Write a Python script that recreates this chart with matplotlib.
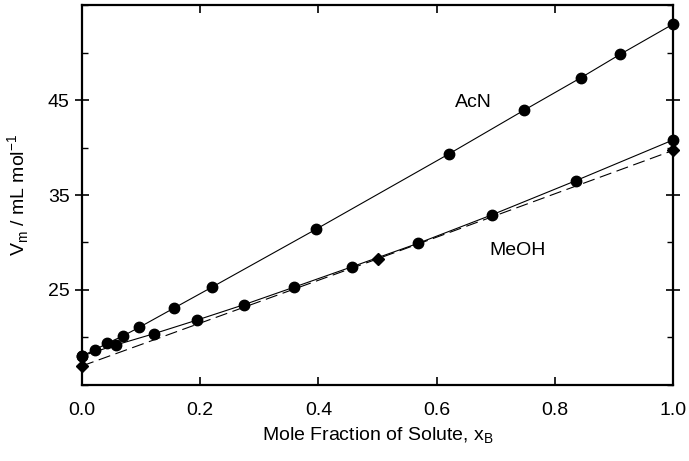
import matplotlib.pyplot as plt
from matplotlib.ticker import MultipleLocator

plt.rcParams['font.family'] = ['Liberation Sans', 'DejaVu Sans']

# AcN solutions (circles)
acn_x = [0.0, 0.022, 0.043, 0.069, 0.097, 0.155, 0.22, 0.396, 0.62, 0.747, 0.844, 0.91, 1.0]
acn_v = [18.05, 18.7, 19.4, 20.15, 21.07, 23.07, 25.3, 31.4, 39.3, 43.9, 47.35, 49.8, 53.0]

# MeOH solutions (circles)
meoh_x = [0.0, 0.057, 0.122, 0.195, 0.274, 0.359, 0.457, 0.568, 0.693, 0.835, 1.0]
meoh_v = [18.05, 19.2, 20.4, 21.84, 23.45, 25.3, 27.45, 29.9, 32.9, 36.5, 40.8]

# diamonds with dashed line
ideal_x = [0.0, 0.501, 1.0]
ideal_v = [17.0, 28.3, 39.7]

fig = plt.figure(figsize=(6.89, 4.61), dpi=100)
ax = fig.add_axes([0.119, 0.165, 0.858, 0.824])

ax.plot(acn_x, acn_v, "k-", lw=0.8, marker="o", ms=7.5, clip_on=False, zorder=3)
ax.plot(meoh_x, meoh_v, "k-", lw=0.8, marker="o", ms=7.5, clip_on=False, zorder=3)
ax.plot(ideal_x, ideal_v, "k", lw=0.8, ls=(0, (11, 5)), marker="D", ms=6, clip_on=False, zorder=4)

ax.text(0.662, 44.7, "AcN", fontsize=14, ha="center", va="center")
ax.text(0.736, 29.2, "MeOH", fontsize=14, ha="center", va="center")

ax.set_xlim(0, 1.0)
ax.set_ylim(15, 55)
ax.set_xticks([0, 0.2, 0.4, 0.6, 0.8, 1.0])
ax.set_xticklabels(["0.0", "0.2", "0.4", "0.6", "0.8", "1.0"])
ax.set_yticks([25, 35, 45])
ax.yaxis.set_minor_locator(MultipleLocator(5))

ax.tick_params(axis="x", which="major", direction="in", top=True, length=6, width=1.2,
               labelsize=14, pad=12)
ax.tick_params(axis="y", which="major", direction="inout", right=True, length=10, width=1.2,
               labelsize=14, pad=4)
ax.tick_params(axis="y", which="minor", direction="in", right=True, length=4, width=1.0)

for s in ax.spines.values():
    s.set_linewidth(1.6)

ax.set_xlabel("Mole Fraction of Solute, x$_\\mathregular{B}$", fontsize=14, labelpad=5)
ax.set_ylabel("V$_\\mathregular{m}$ / mL mol$^\\mathregular{-1}$", fontsize=14, labelpad=12)

fig.savefig("out.png", dpi=100)
